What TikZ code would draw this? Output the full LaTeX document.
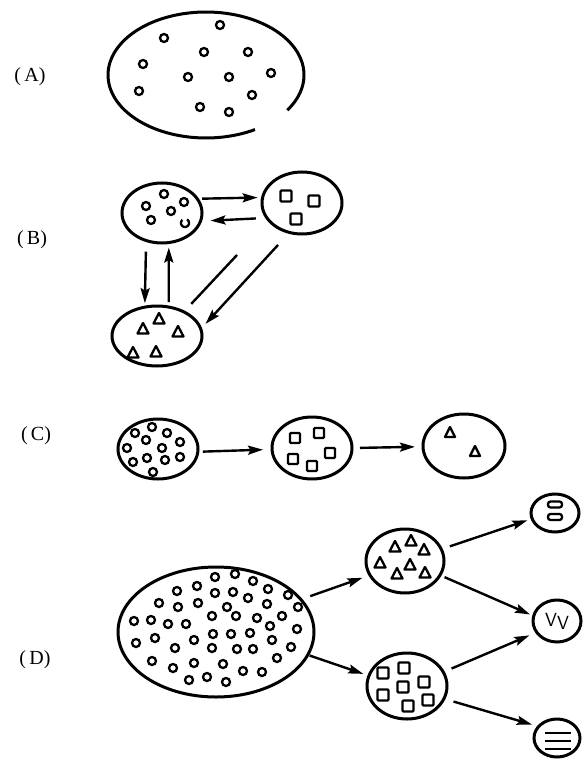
\documentclass[tikz,border=0pt]{standalone}
\usepackage{fontspec}
\setmainfont{Liberation Serif}
\usetikzlibrary{shapes.geometric,arrows.meta}
\begin{document}
\begin{tikzpicture}[x=1pt,y=-1pt,
  blob/.style={draw, ellipse, line width=3pt, inner sep=0pt, outer sep=0pt},
  dot/.style={line width=2.3pt},
  sq/.style={line width=2.3pt, rounded corners=1pt},
  tri/.style={line width=2.3pt, line join=round},
  arr/.style={line width=2.4pt, -{Stealth[length=15pt,width=9pt,inset=2.5pt]}},
  lab/.style={font=\fontsize{20}{24}\selectfont}
]
\useasboundingbox (0,0) rectangle (582,759);

% ---------- labels
\node[lab] (la) at (30,77) {(\,A)};
\node[lab] (lb) at (32,240) {(\,B)};
\node[lab] (lc) at (36,436) {(\,C)};
\node[lab] (ld) at (35,660) {(\,D)};

% ---------- (A)
\draw[line width=3pt] plot[domain=60:394, samples=120] ({206+98*cos(\x)},{75+63*sin(\x)});
\foreach \p in {(220,25),(164,38),(204,52),(248,52),(143,64),(188,77),(229,77),(271,73),(139,91),(252,95),(200,107),(229,112)}
  \draw[dot] \p circle[radius=4pt];

% ---------- (B)
\node[blob, minimum width=80pt, minimum height=60pt] (b1) at (162,213) {};
\node[blob, minimum width=80pt, minimum height=62pt] (b2) at (302,203) {};
\node[blob, minimum width=90pt, minimum height=60pt] (b3) at (157,336) {};
\foreach \p in {(164,194),(146,206),(171,211),(184,202),(151,220)}
  \draw[dot] \p circle[radius=4pt];
\draw[dot] plot[domain=-60:230, samples=40] ({185+4*cos(\x)},{223+4*sin(\x)});
\foreach \p in {(286,196),(314,201),(296,219)}
  \draw[sq] \p +(-5.5,-5.5) rectangle +(5.5,5.5);
\foreach \p in {(159,319),(143,329),(178,332),(133,353),(156,352)}
  \draw[tri] \p ++(0,-6) -- ++(5.5,10.5) -- ++(-11,0) -- cycle;
\coordinate (bfree) at (237,255);
\draw[arr, shorten <=5pt, shorten >=5pt] (b1.22) -- (b2.172);
\draw[arr, shorten <=11pt, shorten >=10pt] (b2.203) -- (b1.-12);
\draw[arr, shorten <=11pt, shorten >=4pt] (b1.240) -- (b3.113);
\draw[arr, shorten <=5pt, shorten >=5pt] (b3.68) -- (b1.-77);
\draw[line width=2.4pt, shorten <=11pt] (b3.42) -- (bfree);
\draw[arr, shorten <=17pt, shorten >=7pt] (b2.247) -- (b3.9);

% ---------- (C)
\node[blob, minimum width=80pt, minimum height=60pt] (c1) at (158,449) {};
\node[blob, minimum width=80pt, minimum height=62pt] (c2) at (312,448) {};
\node[blob, minimum width=82pt, minimum height=64pt] (c3) at (464,446) {};
\foreach \p in {(152,427),(135,433),(167,433),(146,440),(180,442),(127,448),(162,448),(147,458),(133,462),(165,460),(180,457),(153,472)}
  \draw[dot] \p circle[radius=4pt];
\foreach \p in {(295,438),(319,433),(330,453),(293,459),(312,466)}
  \draw[sq] \p +(-5,-5) rectangle +(5,5);
\foreach \p in {(450,433),(475,452)}
  \draw[tri] \p ++(0,-6) -- ++(5,10) -- ++(-10,0) -- cycle;
\draw[arr, shorten <=5pt, shorten >=9pt] (c1.-4) -- (c2.182);
\draw[arr, shorten <=8pt, shorten >=8pt] (c2.0) -- (c3.181);

% ---------- (D)
\node[blob, minimum width=196pt, minimum height=130pt] (d0) at (216,632) {};
\node[blob, minimum width=78pt, minimum height=64pt] (dt) at (405,561) {};
\node[blob, minimum width=80pt, minimum height=66pt] (ds) at (407,686) {};
\node[blob, minimum width=48pt, minimum height=38pt] (e1) at (555,513) {};
\node[blob, minimum width=48pt, minimum height=42pt, font=\sffamily\fontsize{19}{22}\selectfont] (ev) at (557,621) {V\raisebox{-3pt}{V}};
\node[blob, minimum width=46pt, minimum height=38pt] (e3) at (557,738) {};
\foreach \p in {(215,577),(235,574),(253,581),(177,591),(197,586),(215,593),(233,592),(248,598),(268,589),(288,595),
  (159,603),(178,607),(198,603),(227,607),(236,616),(267,604),(298,607),(134,621),(151,620),(168,624),
  (186,624),(212,616),(257,618),(282,616),(270,626),(297,629),(136,643),(155,638),(175,648),(194,640),
  (213,634),(231,634),(250,633),(272,640),(212,648),(237,649),(253,649),(291,647),(152,661),(173,668),
  (194,663),(223,664),(243,671),(262,672),(277,658),(189,680),(207,677),(226,682)}
  \draw[dot] \p circle[radius=4pt];
\foreach \p in {(411,541),(395,547),(424,550),(380,563),(410,565),(397,574),(425,573)}
  \draw[tri] \p ++(0,-6) -- ++(5.5,10.5) -- ++(-11,0) -- cycle;
\foreach \p in {(404,668),(383,673),(424,682),(403,687),(383,695),(428,700),(408,706)}
  \draw[sq] \p +(-5.5,-5.5) rectangle +(5.5,5.5);
\draw[dot, rounded corners=2.5pt] (548,501.5) rectangle (562,507.5);
\draw[dot, rounded corners=2.5pt] (548,514) rectangle (562,520);
\foreach \yy in {733,741,749}
  \draw[line width=2.8pt] (545,\yy) -- (571,\yy);
\draw[arr, shorten <=10pt, shorten >=8pt] (d0.21) -- (dt.202);
\draw[arr, shorten <=2pt, shorten >=6pt] (d0.-14) -- (ds.165);
\draw[arr, shorten <=9pt, shorten >=5pt] (dt.18) -- (e1.194);
\draw[arr, shorten <=5pt, shorten >=4pt] (dt.-22) -- (ev.168);
\draw[arr, shorten <=9pt, shorten >=8pt] (ds.21) -- (ev.209);
\draw[arr, shorten <=10pt, shorten >=7pt] (ds.-19) -- (e3.148);
\end{tikzpicture}
\end{document}
